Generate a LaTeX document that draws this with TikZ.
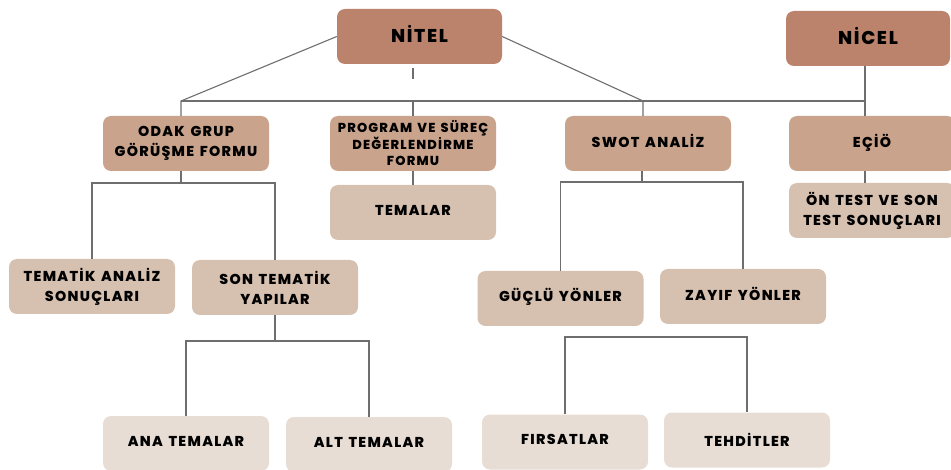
\documentclass[tikz,border=0pt]{standalone}
\usepackage{fontspec}
\setmainfont{Poppins}[LetterSpace=9, WordSpace=1.4, BoldFont={Poppins ExtraBold}]
\definecolor{topfill}{RGB}{187,131,108}
\definecolor{midfill}{RGB}{201,163,139}
\definecolor{lowfill}{RGB}{214,192,175}
\definecolor{basefill}{RGB}{232,221,212}
\definecolor{wire}{RGB}{110,110,110}
\tikzset{
  box/.style={rounded corners=8pt, minimum width=166pt, minimum height=55pt,
    inner sep=0pt, align=center, text=black},
  onerow/.style={text depth=5pt},
  topbox/.style={box, onerow, fill=topfill, font=\fontsize{18.5}{22}\selectfont\bfseries},
  midbox/.style={box, fill=midfill, font=\fontsize{14.3}{20}\selectfont\bfseries},
  lowbox/.style={box, fill=lowfill, font=\fontsize{14.3}{20}\selectfont\bfseries},
  basebox/.style={box, onerow, fill=basefill, font=\fontsize{14.3}{20}\selectfont\bfseries}
}
\tikzset{link/.style={draw=wire, line width=1.1pt}}
\begin{document}
\begin{tikzpicture}[x=1pt, y=-1pt]
\useasboundingbox (0,0) rectangle (951,470);

% top level
\node[topbox, minimum width=165pt] (nitel) at (419.5,36.5) {NİTEL};
\node[topbox, minimum width=164pt] (nicel) at (868,38.5) {NİCEL};

% second level
\node[midbox] (odak) at (186,143.5) {ODAK GRUP\\GÖRÜŞME FORMU};
\node[midbox, font=\fontsize{13}{16.5}\selectfont\bfseries] (prog) at (413,143.5)
  {PROGRAM VE SÜREÇ\\DEĞERLENDİRME\\FORMU};
\node[midbox, onerow] (swot) at (648,143.5) {SWOT ANALİZ};
\node[midbox, onerow] (ecio) at (872,143.5) {EÇİÖ};

% third level
\node[lowbox, onerow] (tema) at (413,212.5) {TEMALAR};
\node[lowbox] (ontest) at (872,210.5) {ÖN TEST VE SON\\TEST SONUÇLARI};
\node[lowbox] (tanaliz) at (92,286.5) {TEMATİK ANALİZ\\SONUÇLARI};
\node[lowbox] (sontem) at (275,287.5) {SON TEMATİK\\YAPILAR};
\node[lowbox, onerow, text depth=7pt] (guclu) at (560.5,298.5) {GÜÇLÜ YÖNLER};
\node[lowbox, onerow] (zayif) at (743,296.5) {ZAYIF YÖNLER};

% bottom level
\node[basebox] (ana) at (186,443.5) {ANA TEMALAR};
\node[basebox] (alt) at (369,444.5) {ALT TEMALAR};
\node[basebox] (firsat) at (565,442) {FIRSATLAR};
\node[basebox, text depth=0pt] (tehdit) at (747,440) {TEHDİTLER};

% junction points
\coordinate (jL) at (181,101);
\coordinate (jP) at (413,101);
\coordinate (jR) at (643,101);
\coordinate (jN) at (865,101);
\coordinate (bOdak) at (181,183);
\coordinate (bSon) at (275,341);
\coordinate (bSwot) at (642,182);
\coordinate (bYon) at (656,337);

% main bus
\draw[link] (nitel.west) -- (jL) -- (jL |- odak.north);
\draw[link] (nitel.east) -- (jR) -- (jR |- swot.north);
\draw[link] (jL) -- (jN);
\draw[link] (jP) -- (prog.north);
\draw[link] (jP |- nitel.south) ++(0,4) -- ++(0,11);
\draw[link] (jN |- nicel.south) -- (jN |- ecio.north);

% short links
\draw[link] (prog.south) -- (tema.north);
\draw[link] (ecio.south -| jN) -- (ontest.north -| jN);

% branches
\draw[link] (jL |- odak.south) -- (bOdak);
\draw[link] (tanaliz.north) |- (bOdak) -| (sontem.north);
\draw[link] (sontem.south) -- (bSon);
\draw[link] (ana.north) |- (bSon) -| (alt.north);
\draw[link] (bSwot |- swot.south) -- (bSwot);
\draw[link] (guclu.north) |- (bSwot) -| (zayif.north);
\draw[link] (firsat.north) |- (bYon) -| (tehdit.north);
\end{tikzpicture}
\end{document}
